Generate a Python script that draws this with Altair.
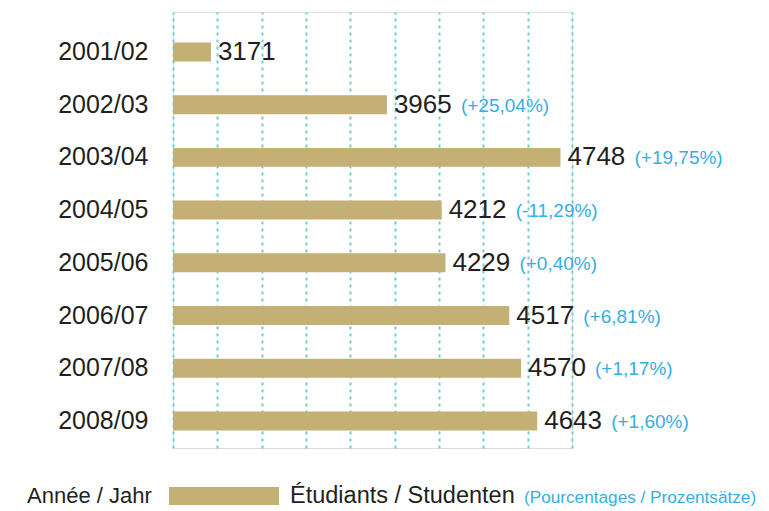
import altair as alt
import pandas as pd

years = ["2001/02", "2002/03", "2003/04", "2004/05", "2005/06", "2006/07", "2007/08", "2008/09"]
students = [3171, 3965, 4748, 4212, 4229, 4517, 4570, 4643]
pct_labels = ["", "(+25,04%)", "(+19,75%)", "(-11,29%)", "(+0,40%)", "(+6,81%)", "(+1,17%)", "(+1,60%)"]
grid_values = [3000, 3200, 3400, 3600, 3800, 4000, 4200, 4400, 4600, 4800]

BAR = "#C4AF75"
CYAN = "#36AEE4"
GRID = "#6CCFD2"
TXT = "#231F20"
FONT = "Liberation Sans"

df = pd.DataFrame({
    "year": years,
    "students": students,
    "start": [grid_values[0]] * len(years),
    "pct": pct_labels,
})

W, H = 399, 436

xscale = alt.Scale(domain=[grid_values[0], grid_values[-1]], zero=False, nice=False)
yenc = alt.Y(
    "year:N",
    sort=years,
    scale=alt.Scale(paddingInner=0.64, paddingOuter=0.456, align=0.634),
    axis=alt.Axis(
        title=None, ticks=False, domain=False, grid=False,
        labelFontSize=25, labelColor=TXT, labelFont=FONT, labelPadding=25,
    ),
)

base = alt.Chart(df)

bars = base.mark_bar(color=BAR).encode(
    x=alt.X(
        "start:Q",
        scale=xscale,
        axis=alt.Axis(
            values=grid_values, title=None, labels=False, ticks=False, domain=False,
            grid=True, gridColor=GRID, gridDash=[3, 4], gridWidth=2, gridOpacity=1,
        ),
    ),
    x2="students:Q",
    y=yenc,
)

nums = base.mark_text(align="left", baseline="middle", dx=7, fontSize=26, font=FONT, color=TXT).encode(
    x=alt.X("students:Q", scale=xscale),
    y=alt.Y("year:N", sort=years),
    text="students:Q",
)

pcts = base.mark_text(align="left", baseline="middle", dx=74, dy=1, fontSize=19, font=FONT, color=CYAN).encode(
    x=alt.X("students:Q", scale=xscale),
    y=alt.Y("year:N", sort=years),
    text="pct:N",
)

legend_df = pd.DataFrame({"k": [0]})
leg_base = alt.Chart(legend_df)
leg_year = leg_base.mark_text(align="left", baseline="alphabetic", fontSize=22, font=FONT, color=TXT).encode(
    x=alt.value(-146), y=alt.value(491), text=alt.value("Année / Jahr"))
leg_rect = leg_base.mark_rect(color=BAR).encode(
    x=alt.value(-4), x2=alt.value(106), y=alt.value(475), y2=alt.value(493))
leg_stud = leg_base.mark_text(align="left", baseline="alphabetic", fontSize=23.5, font=FONT, color=TXT).encode(
    x=alt.value(117), y=alt.value(491), text=alt.value("Étudiants / Studenten"))
leg_pct = leg_base.mark_text(align="left", baseline="alphabetic", fontSize=17.2, font=FONT, color=CYAN).encode(
    x=alt.value(351), y=alt.value(491), text=alt.value("(Pourcentages / Prozentsätze)"))

chart = alt.layer(bars, nums, pcts, leg_year, leg_rect, leg_stud, leg_pct).properties(
    width=W, height=H,
    autosize=alt.AutoSizeParams(type="none"),
    padding={"left": 165, "top": 4, "right": 753 - 165 - W, "bottom": 80},
).configure_view(stroke=None).configure(background="white")

chart.save("out.html", embed_options={"renderer": "svg", "actions": False})
